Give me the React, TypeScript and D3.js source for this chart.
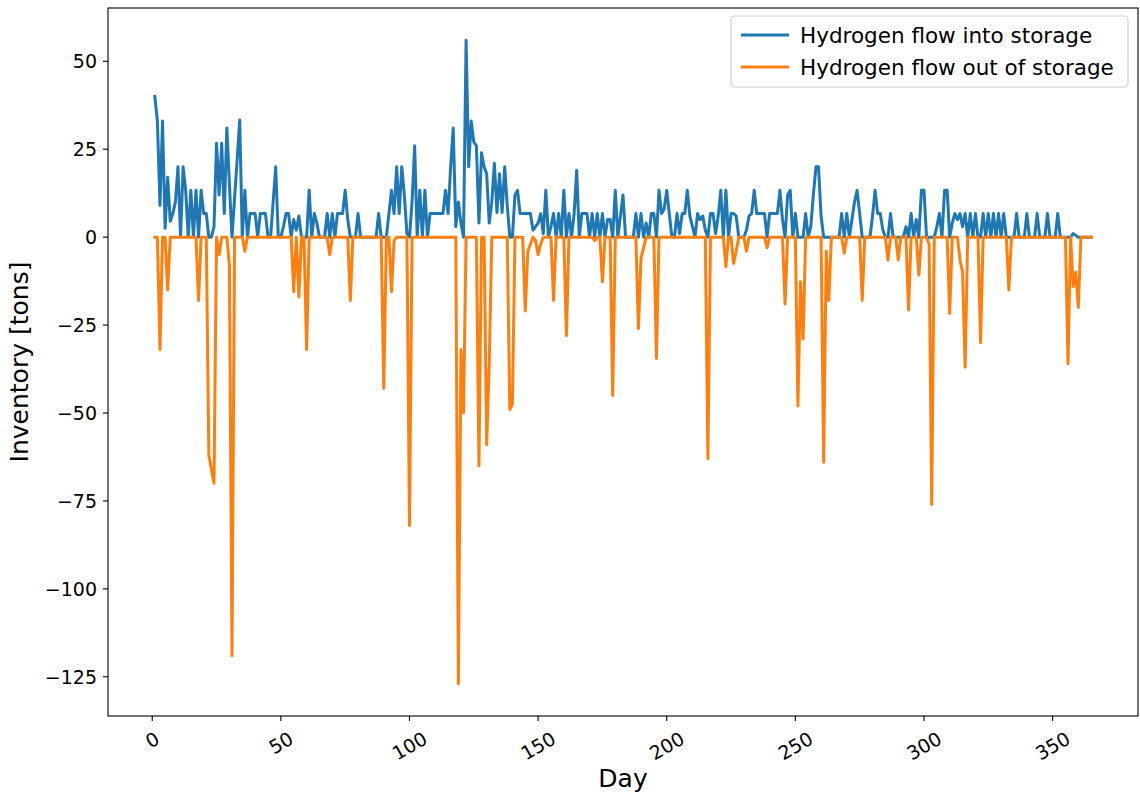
import React from 'react';
import * as d3 from 'd3';

// daily hydrogen flows [tons], day 1..365
const inflow = [
  40, 33, 9, 33, 2.5, 17, 4.5, 6.7, 10, 20,
  0, 20, 13.3, 0, 13.3, 0, 13.3, 0, 13.3, 6.7,
  6.7, 0, 0, 3, 26.7, 12, 26.7, 6.7, 31, 15,
  0, 11, 22, 33.3, 0, 13.3, 0, 6.7, 6.7, 6.7,
  0, 6.7, 6.7, 6.7, 0, 0, 10, 20, 0, 0,
  3, 6.7, 6.7, 0, 5, 2, 6, 0, 0, 0,
  13.3, 0, 6.7, 4, 0, 0, 0, 6.7, 0, 6.7,
  0, 6.7, 6.7, 6.7, 13.3, 5, 0, 0, 0, 6.7,
  0, 0, 0, 0, 0, 0, 0, 6.7, 0, 0,
  0, 6.7, 13.3, 6.7, 20, 6.7, 20, 12, 1, 0,
  10, 26, 0, 13.3, 0, 13.3, 0, 6.7, 6.7, 6.7,
  6.7, 6.7, 6.7, 13.3, 6.7, 20, 31, 3, 10, 4,
  0, 56, 20, 33, 27, 26, 4, 24, 20, 18,
  4, 10, 21, 7, 18, 7, 20, 9, 0, 0,
  12, 13.3, 6.7, 6.7, 6.7, 6.7, 6.7, 2, 3, 4,
  6.7, 1, 13.3, 0, 3, 6.7, 0, 6.7, 0, 13.3,
  0, 6.7, 0, 6.7, 19, 0, 6.7, 6.7, 6.7, 0,
  6.7, 0, 6.7, 0, 6.7, 0, 5, 5, 0, 13.3,
  0, 6, 12, 0, 0, 0, 0, 6.7, 0, 6.7,
  0, 4, 0, 6.7, 6.7, 0, 13.3, 6.7, 8, 13.3,
  6.7, 0, 0, 6.7, 1, 6.7, 6.7, 13.3, 6, 3,
  0, 6.7, 5, 6, 2, 0, 6.7, 6.7, 1, 6,
  13.3, 0, 13.3, 0, 6.7, 6.7, 6, 0, 0, 0,
  2, 6, 6.7, 13.3, 6.7, 6.7, 6.7, 6.7, 0, 6.7,
  6.7, 6.7, 6.7, 13.3, 5, 0, 12, 13.3, 0, 6.7,
  0, 0, 0, 6.7, 0, 3, 12, 20, 20, 6,
  0, 0, 0, 0, 0, 0, 0, 6.7, 0, 6.7,
  0, 5, 10, 13.3, 6.7, 0, 0, 0, 0, 6,
  13.3, 6.7, 6.7, 2, 0, 0, 6.7, 0, 0, 0,
  0, 0, 3, 0, 6.7, 0, 5, 0, 13.3, 13.3,
  0, 0, 0, 0, 3, 6.7, 0, 13.3, 13.3, 0,
  4, 6.7, 5, 6.7, 3, 6.7, 0, 6.7, 0, 6.7,
  0, 0, 6.7, 0, 6.7, 0, 6.7, 0, 6.7, 0,
  6.7, 0, 0, 0, 0, 6.7, 0, 0, 0, 6.7,
  0, 0, 0, 6.7, 0, 0, 0, 6.7, 0, 0,
  0, 6.7, 0, 0, 0, 0, 0, 1, 0.5, 0,
  0, 0, 0, 0, 0,
];

const outflow = [
  0, 0, -32, 0, 0, -15, 0, 0, 0, 0,
  0, 0, 0, 0, 0, 0, 0, -18, 0, 0,
  0, -62, -66, -70, 0, -5, 0, 0, 0, -8,
  -119, 0, 0, 0, 0, -4, 0, 0, 0, 0,
  0, 0, 0, 0, 0, 0, 0, 0, 0, 0,
  0, 0, 0, 0, -15.5, 0, -17, 0, 0, -32,
  0, 0, 0, 0, 0, 0, 0, 0, -5, 0,
  0, 0, 0, 0, 0, 0, -18, 0, 0, 0,
  0, 0, 0, 0, 0, 0, 0, 0, 0, -43,
  0, 0, -15.5, -1, 0, 0, 0, 0, 0, -82,
  0, 0, 0, 0, 0, 0, 0, 0, 0, 0,
  0, 0, 0, 0, 0, 0, 0, 0, -127, -32,
  -50, 0, 0, 0, 0, 0, -65, 0, 0, -59,
  -36, 0, 0, 0, 0, 0, 0, 0, -49, -47.5,
  0, 0, 0, 0, -21, -4, -2, 0, -1, -5,
  -2, 0, 0, 0, 0, -18, 0, 0, 0, 0,
  -28, 0, 0, 0, 0, 0, 0, 0, 0, 0,
  0, -1, 0, 0, -12.7, 0, 0, 0, -45, 0,
  0, 0, 0, 0, 0, 0, 0, 0, -26, -6,
  -3, 0, 0, 0, 0, -34.5, 0, 0, 0, 0,
  0, 0, 0, 0, 0, 0, 0, 0, 0, 0,
  0, 0, 0, 0, 0, -63, 0, 0, 0, 0,
  0, 0, -8.4, 0, 0, -7.5, -4, 0, 0, 0,
  -4, 0, 0, 0, 0, 0, 0, 0, -3, 0,
  0, 0, 0, 0, 0, -19, 0, 0, 0, 0,
  -48, -12.7, -29, 0, 0, 0, 0, 0, 0, 0,
  -64, -4, -18, 0, 0, 0, 0, 0, -4.6, 0,
  0, 0, 0, 0, 0, -18, 0, 0, 0, 0,
  0, 0, 0, 0, 0, -6.5, 0, 0, 0, -6.5,
  0, 0, 0, -20.7, 0, 0, 0, -10.8, 0, 0,
  0, -2, -76, 0, 0, 0, 0, 0, 0, -21.7,
  0, 0, 0, -6.5, -10, -37, 0, 0, 0, 0,
  0, -30, 0, 0, 0, 0, 0, 0, 0, 0,
  0, 0, -15, 0, 0, 0, 0, 0, 0, 0,
  0, 0, 0, 0, 0, 0, 0, 0, 0, 0,
  0, 0, 0, 0, 0, -36, 0, -14, -10, -20,
  0, 0, 0, 0, 0,
];

const seriesNames = ['Hydrogen flow into storage', 'Hydrogen flow out of storage'];
const seriesColors = ['#1f77b4', '#ff7f0e'];
const xTicks = [0, 50, 100, 150, 200, 250, 300, 350];
const yTicks = [50, 25, 0, -25, -50, -75, -100, -125];

const W = 1140;
const H = 796;
const box = { left: 108, top: 8, right: 1138, bottom: 716 };
const FONT = 'DejaVu Sans';
const TICK_FS = 19;
const LABEL_FS = 25;
const LEGEND_FS = 21.5;

const fmt = (v: number) => (v < 0 ? '\u2212' + Math.abs(v) : String(v));

export default function App() {
  const days = inflow.map((_, i) => i + 1);
  const dx = (days[days.length - 1] - days[0]) * 0.05;
  const x = d3.scaleLinear()
    .domain([days[0] - dx, days[days.length - 1] + dx])
    .range([box.left, box.right]);

  const all = inflow.concat(outflow);
  const lo = d3.min(all) as number;
  const hi = d3.max(all) as number;
  const dy = (hi - lo) * 0.05;
  const y = d3.scaleLinear()
    .domain([lo - dy, hi + dy])
    .range([box.bottom, box.top]);

  const line = d3.line<number>()
    .x((_, i) => x(days[i]))
    .y(d => y(d));

  const series = [inflow, outflow];

  return (
    <svg width={W} height={H} style={{ position: 'absolute', left: 0, top: 0, background: '#fff' }}
      fontFamily={FONT}>
      <rect x={0} y={0} width={W} height={H} fill="#fff" />

      {series.map((s, k) => (
        <path key={k} d={line(s) || ''} fill="none" stroke={seriesColors[k]}
          strokeWidth={3} strokeLinejoin="round" strokeLinecap="square" />
      ))}

      {/* frame */}
      <rect x={box.left} y={box.top} width={box.right - box.left} height={box.bottom - box.top}
        fill="none" stroke="#000" strokeWidth={1.1} />

      {/* y axis */}
      {yTicks.map(t => (
        <g key={t}>
          <line x1={box.left - 5} x2={box.left} y1={y(t)} y2={y(t)} stroke="#000" strokeWidth={1.1} />
          <text x={box.left - 11} y={y(t)} textAnchor="end" dominantBaseline="central"
            fontSize={TICK_FS} fill="#000">{fmt(t)}</text>
        </g>
      ))}

      {/* x axis */}
      {xTicks.map(t => {
        const label = fmt(t);
        const w = label.length * 0.636 * TICK_FS;
        const cy = box.bottom + 12 + (w * 0.5 + TICK_FS * 0.9) / 2;
        return (
          <g key={t}>
            <line x1={x(t)} x2={x(t)} y1={box.bottom} y2={box.bottom + 5} stroke="#000" strokeWidth={1.1} />
            <text x={x(t)} y={cy} textAnchor="middle" dominantBaseline="central"
              transform={`rotate(-30, ${x(t)}, ${cy})`} fontSize={TICK_FS} fill="#000">{label}</text>
          </g>
        );
      })}

      <text x={(box.left + box.right) / 2} y={787} textAnchor="middle" fontSize={LABEL_FS} fill="#000">Day</text>
      <text transform={`translate(28, ${(box.top + box.bottom) / 2}) rotate(-90)`} textAnchor="middle"
        fontSize={LABEL_FS} fill="#000">Inventory [tons]</text>

      {/* legend */}
      <g>
        <rect x={731} y={16} width={397} height={71} rx={4} fill="#fff" fillOpacity={0.8}
          stroke="#cccccc" strokeWidth={1.1} />
        {seriesNames.map((name, k) => {
          const ly = 35 + k * 32;
          return (
            <g key={name}>
              <line x1={741} x2={789} y1={ly} y2={ly} stroke={seriesColors[k]} strokeWidth={3} />
              <text x={800} y={ly} dominantBaseline="central" fontSize={LEGEND_FS} fill="#000">{name}</text>
            </g>
          );
        })}
      </g>
    </svg>
  );
}
